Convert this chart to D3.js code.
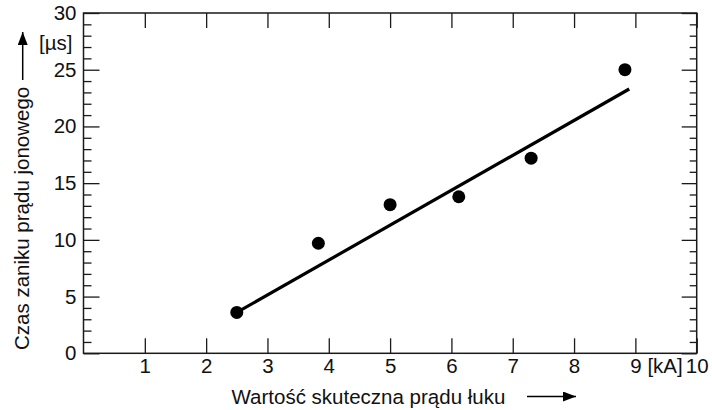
<!DOCTYPE html>
<html>
<head>
<meta charset="utf-8">
<script src="https://cdn.jsdelivr.net/npm/d3@7"></script>
<style>
  html, body { margin: 0; padding: 0; background: #fff; }
  svg { display: block; }
  text { font-family: "Liberation Sans", Arial, Helvetica, sans-serif; fill: #111; }
</style>
</head>
<body>
<svg id="chart" width="712" height="410"></svg>
<script>
// Measured RMS arc current [kA] and ion current decay time [µs]
const currentKA = [2.5, 3.83, 5.0, 6.12, 7.3, 8.83];
const decayUs   = [3.6, 9.7, 13.1, 13.8, 17.2, 25.0];

// Fitted trend line (end points)
const fitX = [2.5, 8.9];
const fitY = [3.6, 23.3];

// Axis ticks and labels
const xTicks = [1, 2, 3, 4, 5, 6, 7, 8, 9, 10];
const xTickLabels = ["1", "2", "3", "4", "5", "6", "7", "8", "9", "10"];
const yMajorTicks = [0, 5, 10, 15, 20, 25, 30];
const yMinorTicks = d3.range(0, 31).filter(v => v % 5 !== 0);
const xUnit = "[kA]";
const yUnit = "[µs]";
const xTitle = "Wartość skuteczna prądu łuku";
const yTitle = "Czas zaniku prądu jonowego";

const svg = d3.select("#chart");
const m = { left: 83.5, right: 712 - 696.7, top: 13, bottom: 410 - 353.3 };
const W = 712 - m.left - m.right;
const H = 410 - m.top - m.bottom;
const ink = "#1a1a1a";
const fs = 20.5;

const x = d3.scaleLinear().domain([0, 10]).range([0, W]);
const y = d3.scaleLinear().domain([0, 30]).range([H, 0]);

const g = svg.append("g").attr("transform", `translate(${m.left},${m.top})`);

function styleAxis(sel, showText) {
  sel.select(".domain").remove();
  sel.selectAll(".tick line").attr("stroke", ink).attr("stroke-width", 1.3);
  if (!showText) sel.selectAll(".tick text").remove();
  else sel.selectAll(".tick text")
      .style("font-family", '"Liberation Sans", Arial, sans-serif')
      .style("font-size", fs + "px").attr("fill", ink);
}

// Left axis: major ticks with labels, minor ticks, both pointing inward
g.append("g")
  .call(d3.axisLeft(y).tickValues(yMinorTicks).tickSize(-8).tickFormat(""))
  .call(s => styleAxis(s, false));
g.append("g")
  .call(d3.axisLeft(y).tickValues(yMajorTicks).tickSize(-16).tickPadding(7).tickFormat(d3.format("d")))
  .call(s => styleAxis(s, true));

// Right axis: mirrored ticks, no labels
g.append("g").attr("transform", `translate(${W},0)`)
  .call(d3.axisRight(y).tickValues(yMinorTicks).tickSize(-7).tickFormat(""))
  .call(s => styleAxis(s, false));
g.append("g").attr("transform", `translate(${W},0)`)
  .call(d3.axisRight(y).tickValues(yMajorTicks).tickSize(-15).tickFormat(""))
  .call(s => styleAxis(s, false));

// Bottom axis with labels
g.append("g").attr("transform", `translate(0,${H})`)
  .call(d3.axisBottom(x).tickValues(xTicks).tickSize(-15).tickPadding(5)
        .tickFormat((d, i) => xTickLabels[i]))
  .call(s => styleAxis(s, true));

// Top axis ticks
g.append("g")
  .call(d3.axisTop(x).tickValues(xTicks).tickSize(-15).tickFormat(""))
  .call(s => styleAxis(s, false));

// Frame
g.append("rect").attr("x", 0).attr("y", 0).attr("width", W).attr("height", H)
  .attr("fill", "none").attr("stroke", ink).attr("stroke-width", 1.5);

// Units
g.append("text").attr("x", x(9) + 12).attr("y", H + 5).attr("dy", "0.71em")
  .attr("font-size", fs).text(xUnit);
g.append("text").attr("x", -11).attr("y", y(27.4)).attr("dy", "0.35em")
  .attr("text-anchor", "end").attr("font-size", fs).text(yUnit);

// Trend line
const line = d3.line().x(d => x(d[0])).y(d => y(d[1]));
g.append("path").datum(d3.zip(fitX, fitY)).attr("d", line)
  .attr("fill", "none").attr("stroke", "#000").attr("stroke-width", 3.2)
  .attr("stroke-linecap", "butt");

// Measured points
g.selectAll("circle.pt").data(d3.zip(currentKA, decayUs)).join("circle")
  .attr("class", "pt").attr("cx", d => x(d[0])).attr("cy", d => y(d[1]))
  .attr("r", 6.5).attr("fill", "#000");

// Axis titles with arrows
svg.append("defs").append("marker").attr("id", "arrow")
  .attr("viewBox", "0 0 13 10").attr("refX", 13).attr("refY", 5)
  .attr("markerWidth", 13).attr("markerHeight", 10).attr("markerUnits", "userSpaceOnUse")
  .attr("orient", "auto")
  .append("path").attr("d", "M0,0L13,5L0,10Z").attr("fill", "#000");

svg.append("text").attr("x", 231.5).attr("y", 404).attr("font-size", fs).text(xTitle);
svg.append("line").attr("x1", 527).attr("x2", 576).attr("y1", 396.5).attr("y2", 396.5)
  .attr("stroke", "#000").attr("stroke-width", 1.5).attr("marker-end", "url(#arrow)");

svg.append("text").attr("transform", "translate(28.5,350) rotate(-90)")
  .attr("font-size", fs).text(yTitle);
svg.append("line").attr("x1", 22.7).attr("x2", 22.7).attr("y1", 80).attr("y2", 32)
  .attr("stroke", "#000").attr("stroke-width", 1.5).attr("marker-end", "url(#arrow)");
</script>
</body>
</html>
